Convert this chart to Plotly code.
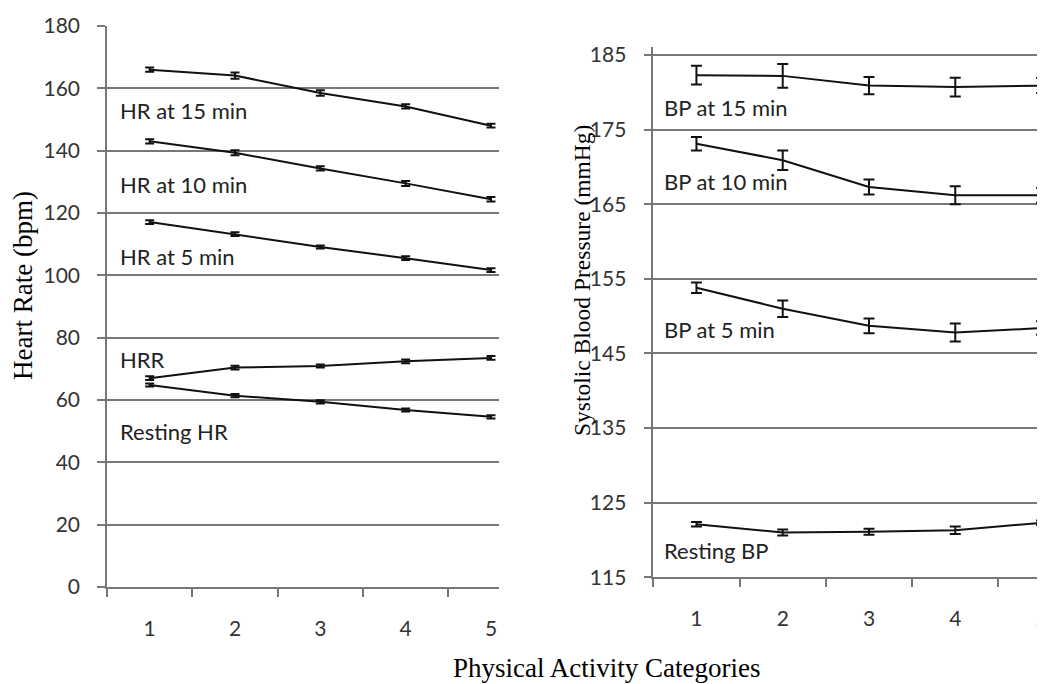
import plotly.graph_objects as go

categories = [1, 2, 3, 4, 5]

# Left panel: heart rate (bpm)
hr15 = [166.0, 164.1, 158.5, 154.2, 148.0]
hr15_err = [0.7, 1.0, 0.9, 0.7, 0.6]
hr10 = [143.0, 139.3, 134.3, 129.5, 124.4]
hr10_err = [0.7, 0.8, 0.7, 0.8, 0.7]
hr5 = [117.1, 113.2, 109.1, 105.5, 101.7]
hr5_err = [0.6, 0.6, 0.5, 0.6, 0.6]
hrr = [67.0, 70.4, 70.9, 72.4, 73.5]
hrr_err = [0.6, 0.6, 0.5, 0.6, 0.6]
rest_hr = [64.8, 61.4, 59.4, 56.8, 54.6]
rest_hr_err = [0.5, 0.5, 0.5, 0.5, 0.5]

# Right panel: systolic blood pressure (mmHg)
bp15 = [182.3, 182.2, 180.9, 180.7, 180.9]
bp15_err = [1.25, 1.6, 1.15, 1.25, 1.0]
bp10 = [173.1, 170.9, 167.3, 166.2, 166.2]
bp10_err = [0.9, 1.3, 1.0, 1.2, 1.0]
bp5 = [153.8, 151.0, 148.7, 147.8, 148.4]
bp5_err = [0.7, 1.1, 1.0, 1.2, 0.9]
rest_bp = [122.1, 121.0, 121.1, 121.3, 122.3]
rest_bp_err = [0.3, 0.4, 0.4, 0.5, 0.3]

left_labels = [("HR at 15 min", 153.0), ("HR at 10 min", 129.0), ("HR at 5 min", 106.0),
               ("HRR", 73.1), ("Resting HR", 50.0)]
right_labels = [("BP at 15 min", 177.9), ("BP at 10 min", 168.0), ("BP at 5 min", 148.2),
                ("Resting BP", 118.6)]

left_ticks = [0, 20, 40, 60, 80, 100, 120, 140, 160, 180]
right_ticks = [115, 125, 135, 145, 155, 165, 175, 185]

W, H = 1045, 684
OFF = 8  # page body margin in the screenshot
LINE = "#111111"
GRID = "#777777"
TICKFONT = dict(family="Lato", size=21, color="#333333")
LABELFONT = dict(family="Lato", size=22, color="#222222")
TITLEFONT = dict(family="Liberation Serif", size=27, color="#000000")

fig = go.Figure()

def add_series(y, err, xa, ya, capw):
    fig.add_trace(go.Scatter(
        x=categories, y=y, mode="lines", xaxis=xa, yaxis=ya,
        line=dict(color=LINE, width=2),
        error_y=dict(type="data", array=err, visible=True, color=LINE,
                     thickness=2, width=capw),
        showlegend=False, hoverinfo="skip"))

for y, e in [(hr15, hr15_err), (hr10, hr10_err), (hr5, hr5_err), (hrr, hrr_err), (rest_hr, rest_hr_err)]:
    add_series(y, e, "x", "y", 4.5)
for y, e in [(bp15, bp15_err), (bp10, bp10_err), (bp5, bp5_err), (rest_bp, rest_bp_err)]:
    add_series(y, e, "x2", "y2", 5.5)

def px_x(p):
    return (p - OFF) / W

def px_y(p):
    return 1 - (p - OFF) / H

xcommon = dict(
    tickmode="array", tickvals=categories, ticktext=[str(c) for c in categories],
    ticks="", showgrid=False, zeroline=False, showline=True, linecolor=GRID, linewidth=1.5,
    tickfont=TICKFONT, ticklabelstandoff=22, automargin=False,
    minor=dict(tickmode="array", tickvals=[0.5, 1.5, 2.5, 3.5, 4.5], ticks="outside",
               ticklen=8, tickcolor=GRID, tickwidth=1.5, showgrid=False),
)
ycommon = dict(
    tickmode="array", ticks="outside", ticklen=8, tickcolor=GRID, tickwidth=1.5,
    showgrid=True, gridcolor=GRID, gridwidth=1.5, zeroline=False, automargin=False,
    showline=True, linecolor=GRID, linewidth=1.5, tickfont=TICKFONT, ticklabelstandoff=13,
)

fig.update_layout(
    width=W, height=H,
    margin=dict(l=0, r=0, t=0, b=0, autoexpand=False),
    paper_bgcolor="white", plot_bgcolor="white",
    xaxis=dict(domain=[px_x(107), px_x(499)], range=[0.5, 5.094], anchor="y", **xcommon),
    yaxis=dict(domain=[px_y(587), px_y(26)], range=[0, 180], tickvals=left_ticks,
               anchor="x", **ycommon),
    xaxis2=dict(domain=[px_x(653.3), px_x(1045)], range=[0.5, 5.04], anchor="y2", **xcommon),
    yaxis2=dict(domain=[px_y(577.3), px_y(47)], range=[115, 186.07], tickvals=right_ticks,
                anchor="x2", **ycommon),
)

annotations = []
for text, yv in left_labels:
    annotations.append(dict(x=0.63, y=yv, xref="x", yref="y", text=text, showarrow=False,
                            xanchor="left", yanchor="middle", font=LABELFONT))
for text, yv in right_labels:
    annotations.append(dict(x=0.605, y=yv, xref="x2", yref="y2", text=text, showarrow=False,
                            xanchor="left", yanchor="middle", font=LABELFONT))

annotations.append(dict(x=px_x(23), y=px_y(286), xref="paper", yref="paper",
                        text="Heart Rate (bpm)", textangle=-90, showarrow=False,
                        xanchor="center", yanchor="middle", font=TITLEFONT))
annotations.append(dict(x=px_x(582), y=px_y(281), xref="paper", yref="paper",
                        text="Systolic Blood Pressure (mmHg)", textangle=-90, showarrow=False,
                        xanchor="center", yanchor="middle",
                        font=dict(family="Liberation Serif", size=23.5, color="#000000")))
annotations.append(dict(x=px_x(606), y=px_y(668), xref="paper", yref="paper",
                        text="Physical Activity Categories", showarrow=False,
                        xanchor="center", yanchor="middle", font=TITLEFONT))
fig.update_layout(annotations=annotations)

fig.write_html("out.html")
